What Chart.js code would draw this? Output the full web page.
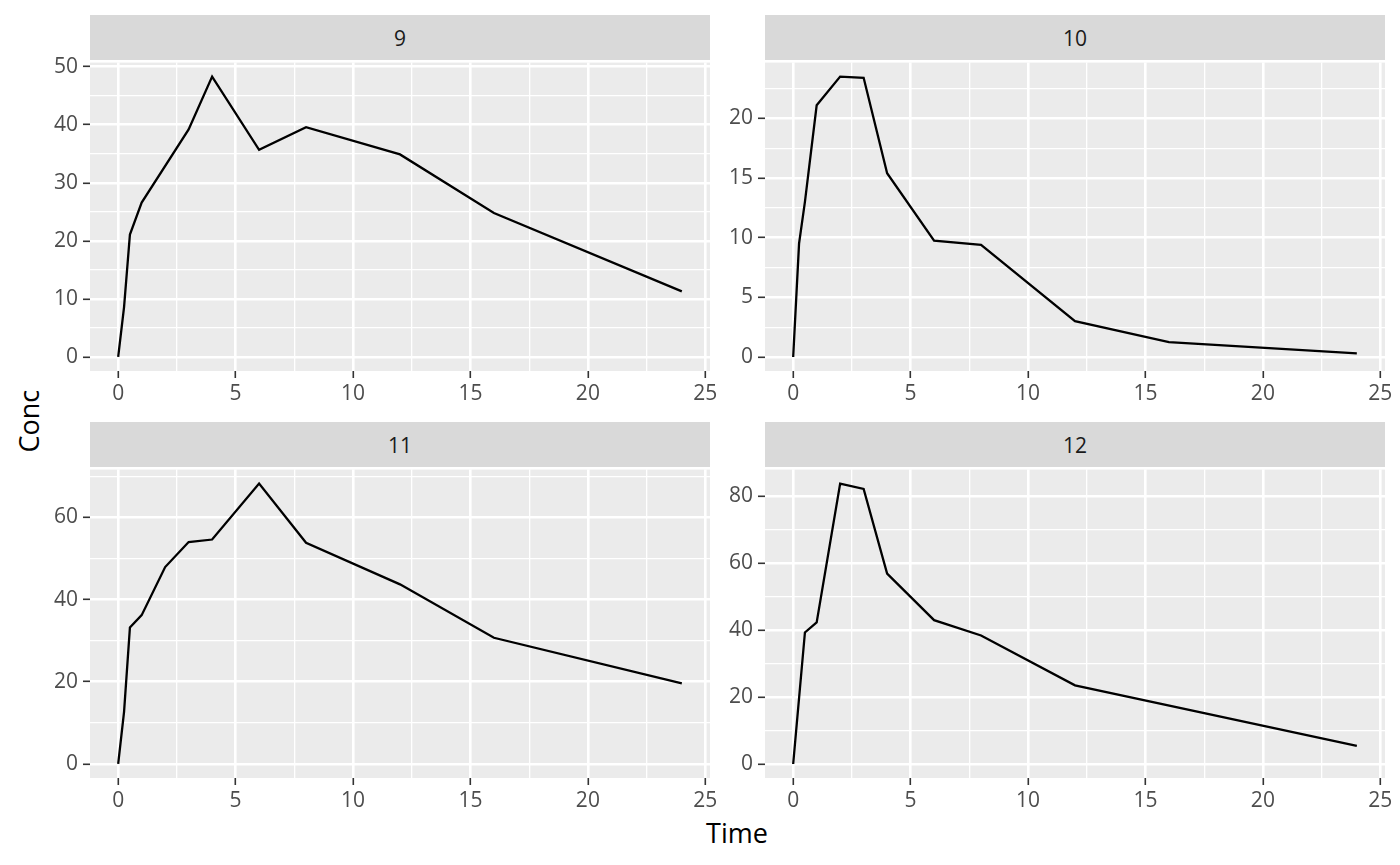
<!DOCTYPE html>
<html>
<head>
<meta charset="utf-8">
<script src="https://cdn.jsdelivr.net/npm/chart.js@4"></script>
<style>
  body { margin: 0; background: #fff; font-family: "Open Sans", sans-serif; }
  #wrap { position: relative; width: 1400px; height: 865px; overflow: hidden; }
  .strip {
    position: absolute; background: #D9D9D9; color: #1A1A1A;
    font-size: 21px; display: flex; align-items: center; justify-content: center;
  }
  .panel { position: absolute; }
  .title { position: absolute; font-size: 27px; color: #000; }
</style>
</head>
<body>
<div id="wrap">
  <div class="title" style="left:0; top:406px; width:56px; text-align:center; transform: rotate(-90deg);">Conc</div>
  <div class="title" style="left:637px; top:814px; width:200px; text-align:center;">Time</div>
</div>
<script>
// facet labels
const subjects = ["9", "10", "11", "12"];

// sampling times and concentrations per subject
const time9 = [0, 0.25, 0.5, 1, 3, 4, 6, 8, 12, 16, 24];
const conc9 = [0, 8.6, 21.1, 26.6, 39.2, 48.3, 35.7, 39.6, 34.9, 24.8, 11.3];

const time10 = [0, 0.25, 0.5, 1, 2, 3, 4, 6, 8, 12, 16, 24];
const conc10 = [0, 9.5, 13, 21.1, 23.5, 23.4, 15.4, 9.75, 9.4, 3.0, 1.25, 0.3];

const time11 = [0, 0.25, 0.5, 1, 2, 3, 4, 6, 8, 12, 16, 24];
const conc11 = [0, 12.7, 33.2, 36.2, 47.9, 54.0, 54.6, 68.2, 53.8, 43.7, 30.7, 19.6];

const time12 = [0, 0.5, 1, 2, 3, 4, 6, 8, 12, 24];
const conc12 = [0, 39.3, 42.3, 83.8, 82.2, 56.9, 43.0, 38.4, 23.5, 5.4];

// x tick labels shared by every panel, y label steps per panel
const xTicks = [0, 5, 10, 15, 20, 25];
const yMajorStep = [10, 5, 20, 20];

const series = [
  [time9, conc9],
  [time10, conc10],
  [time11, conc11],
  [time12, conc12],
];

// plot area positions (left, top) in the 1400x865 page
const plotW = 620, plotH = 311;
const spots = [[90, 60], [765, 60], [90, 467], [765, 467]];
const stripH = 45;
const padTop = 15, padRight = 20, yAxisW = 60, xAxisH = 50;

const wrap = document.getElementById("wrap");

const panelBg = {
  id: "panelBg",
  beforeDraw(chart) {
    const a = chart.chartArea;
    const c = chart.ctx;
    c.save();
    c.fillStyle = "#EBEBEB";
    c.fillRect(a.left, a.top, a.right - a.left, a.bottom - a.top);
    c.restore();
  },
};

function expand(lo, hi) {
  const pad = (hi - lo) * 0.05;
  return [lo - pad, hi + pad];
}

series.forEach(([t, y], i) => {
  const [left, top] = spots[i];

  const strip = document.createElement("div");
  strip.className = "strip";
  strip.style.left = left + "px";
  strip.style.top = top - stripH + "px";
  strip.style.width = plotW + "px";
  strip.style.height = stripH + "px";
  strip.textContent = subjects[i];
  wrap.appendChild(strip);

  const box = document.createElement("div");
  box.className = "panel";
  const w = yAxisW + plotW + padRight;
  const h = padTop + plotH + xAxisH;
  box.style.left = left - yAxisW + "px";
  box.style.top = top - padTop + "px";
  box.style.width = w + "px";
  box.style.height = h + "px";
  const cv = document.createElement("canvas");
  box.appendChild(cv);
  wrap.appendChild(box);

  const [xMin, xMax] = expand(Math.min(...t), Math.max(...t));
  const [yMin, yMax] = expand(Math.min(...y), Math.max(...y));
  const ym = yMajorStep[i];

  new Chart(cv, {
    type: "line",
    data: {
      datasets: [
        {
          data: t.map((v, k) => ({ x: v, y: y[k] })),
          borderColor: "#000000",
          borderWidth: 2.3,
          pointRadius: 0,
          tension: 0,
          fill: false,
        },
      ],
    },
    options: {
      animation: false,
      responsive: true,
      maintainAspectRatio: false,
      devicePixelRatio: 1,
      layout: { padding: { top: padTop, right: padRight, left: 0, bottom: 0 } },
      plugins: { legend: { display: false }, tooltip: { enabled: false } },
      scales: {
        x: {
          type: "linear",
          min: xMin,
          max: xMax,
          border: { display: false },
          grid: {
            color: "#FFFFFF",
            lineWidth: (c) => (c.tick && xTicks.includes(c.tick.value) ? 2.6 : 1.3),
            tickLength: 7,
            tickWidth: 1.6,
            tickColor: (c) => (c.tick && xTicks.includes(c.tick.value) ? "#333333" : "rgba(0,0,0,0)"),
          },
          ticks: {
            stepSize: 2.5,
            includeBounds: false,
            autoSkip: false,
            maxRotation: 0,
            padding: 3,
            color: "#4D4D4D",
            font: { family: "Open Sans", size: 21 },
            callback: (v) => (xTicks.includes(v) ? String(v) : ""),
          },
          afterFit: (s) => { s.height = xAxisH; },
        },
        y: {
          type: "linear",
          min: yMin,
          max: yMax,
          border: { display: false },
          grid: {
            color: "#FFFFFF",
            lineWidth: (c) => (c.tick && Math.abs(c.tick.value % ym) < 1e-9 ? 2.6 : 1.3),
            tickLength: 7,
            tickWidth: 1.6,
            tickColor: (c) => (c.tick && Math.abs(c.tick.value % ym) < 1e-9 ? "#333333" : "rgba(0,0,0,0)"),
          },
          ticks: {
            stepSize: ym / 2,
            includeBounds: false,
            autoSkip: false,
            padding: 5,
            color: "#4D4D4D",
            font: { family: "Open Sans", size: 21 },
            callback: (v) => (Math.abs(v % ym) < 1e-9 ? String(v) : ""),
          },
          afterFit: (s) => { s.width = yAxisW; },
        },
      },
    },
    plugins: [panelBg],
  });
});
</script>
</body>
</html>
